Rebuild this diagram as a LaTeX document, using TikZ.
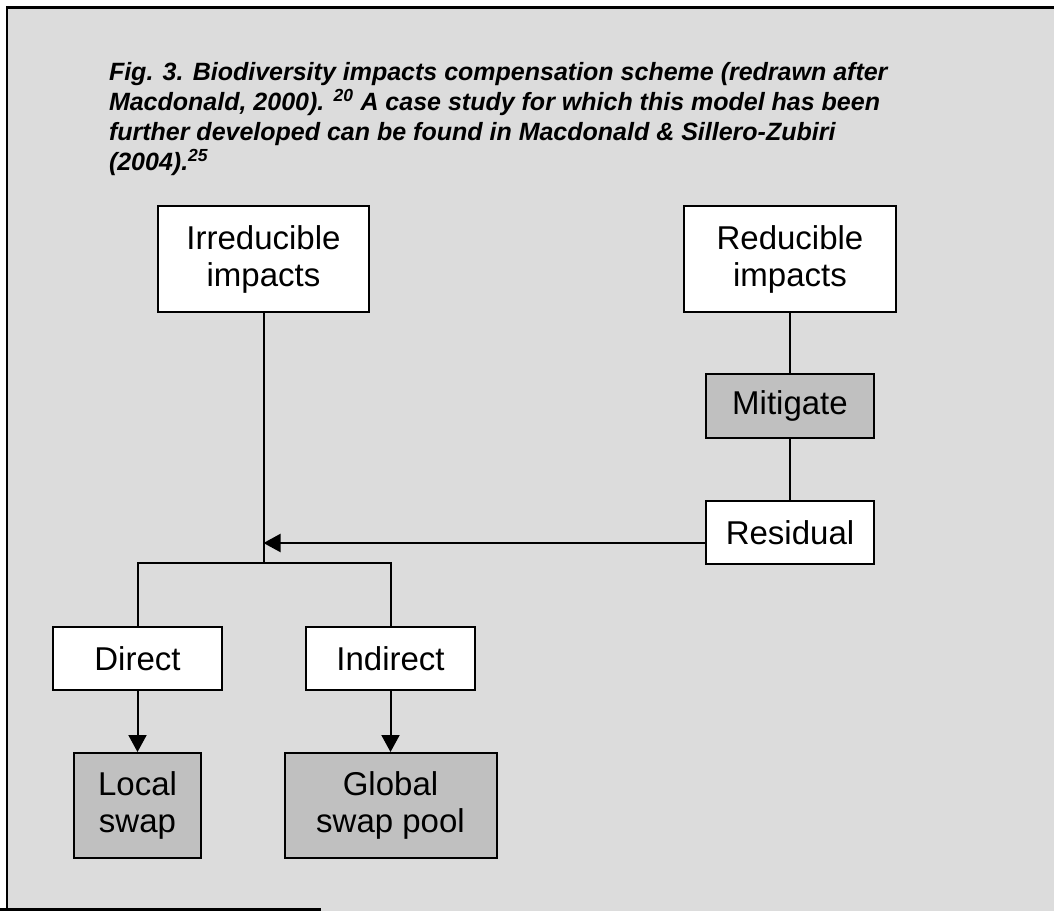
\documentclass[tikz,border=0pt]{standalone}
\usepackage{fontspec}
\setmainfont{Liberation Sans}
\usetikzlibrary{arrows.meta}
\definecolor{panelgray}{RGB}{220,220,220}
\definecolor{swapgray}{RGB}{192,192,192}

\begin{document}
\begin{tikzpicture}[x=1bp,y=-1bp,line width=2bp,
		box/.style={draw,fill=white,align=center,inner sep=0pt,font=\fontsize{33bp}{37bp}\selectfont},
		swapbox/.style={box,fill=swapgray},
		arr/.style={-{Triangle[width=18bp,length=17bp]}}]
				\useasboundingbox (0,0) rectangle (1054,911);
				\fill[panelgray] (7,7) rectangle (1054,911);
				\draw[line width=2.5bp] (1054,7.5) -- (7,7.5) -- (7,911);
				\draw[line width=2.5bp] (0,909.5) -- (321,909.5);
				\node[anchor=north west,align=left,inner sep=0pt,font=\fontsize{25bp}{30bp}\selectfont\bfseries\itshape] (caption) at (108,61) {Fig. 3. Biodiversity impacts compensation scheme (redrawn after\\Macdonald, 2000). \textsuperscript{20} A case study for which this model has been\\further developed can be found in Macdonald \& Sillero-Zubiri\\(2004).\textsuperscript{25}};
				\node[box,minimum width=211bp,minimum height=106bp] (irred) at (263.5,259) {Irreducible\\impacts};
				\node[box,minimum width=212bp,minimum height=106bp] (red) at (790,259) {Reducible\\impacts};
				\node[swapbox,minimum width=168bp,minimum height=64bp] (mitigate) at (790,406) {Mitigate};
				\node[box,minimum width=168bp,minimum height=63bp] (residual) at (790,532.5) {Residual};
				\node[box,minimum width=169bp,minimum height=63bp] (direct) at (137.5,658.5) {Direct};
				\node[box,minimum width=169bp,minimum height=63bp] (indirect) at (390.5,658.5) {Indirect};
				\node[swapbox,minimum width=127bp,minimum height=105bp] (local) at (137.5,805.5) {Local\\swap};
				\node[swapbox,minimum width=212bp,minimum height=105bp] (global) at (390.5,805.5) {Global\\swap pool};
				\coordinate (split) at (263.5,563);
				\coordinate (hit) at (263.5,543);
				\draw (red) -- (mitigate);
				\draw (mitigate) -- (residual);
				\draw (irred) -- (split);
				\draw (direct.north) |- (split);
				\draw (indirect.north) |- (split);
				\draw[arr] (residual.west |- hit) -- (hit);
				\draw[arr] (direct) -- (local);
				\draw[arr] (indirect) -- (global);
			\end{tikzpicture}
\end{document}
